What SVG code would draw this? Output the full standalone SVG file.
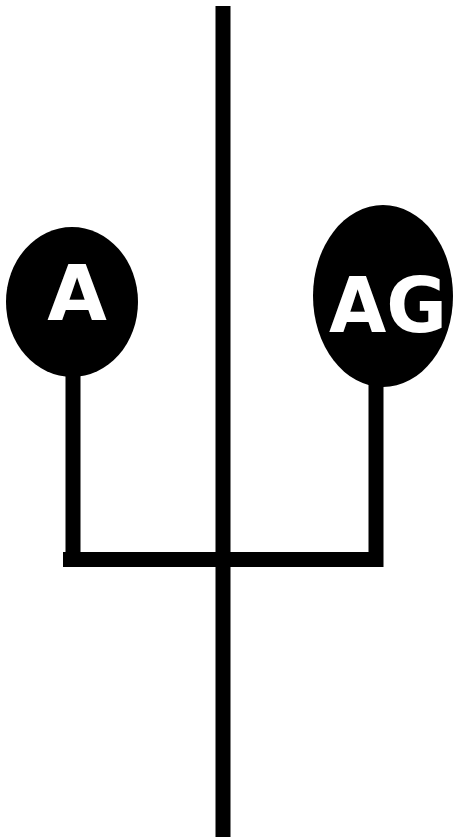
<svg xmlns="http://www.w3.org/2000/svg" width="458" height="837" viewBox="0 0 458 837">
<style>
.ln{stroke:#000;stroke-width:15;fill:none;stroke-linecap:butt}
.nd{fill:#000}
.lb{fill:#fff;font-family:"DejaVu Sans",Verdana,sans-serif;font-weight:bold;font-size:77px;text-anchor:middle}
</style>
<rect width="458" height="837" fill="#fff"/>
<g id="connectors">
<line class="ln" x1="223" y1="6" x2="223" y2="837"/>
<polyline class="ln" points="73,370 73,559.5 376,559.5 376,370"/>
<line class="ln" x1="63" y1="559.5" x2="383" y2="559.5"/>
</g>
<g id="node-A">
<ellipse class="nd" cx="72" cy="302" rx="66" ry="75"/>
<text class="lb" x="77" y="320">A</text>
</g>
<g id="node-AG">
<ellipse class="nd" cx="383" cy="296" rx="70" ry="91"/>
<text class="lb" x="388" y="332" textLength="118" lengthAdjust="spacingAndGlyphs">AG</text>
</g>
</svg>
